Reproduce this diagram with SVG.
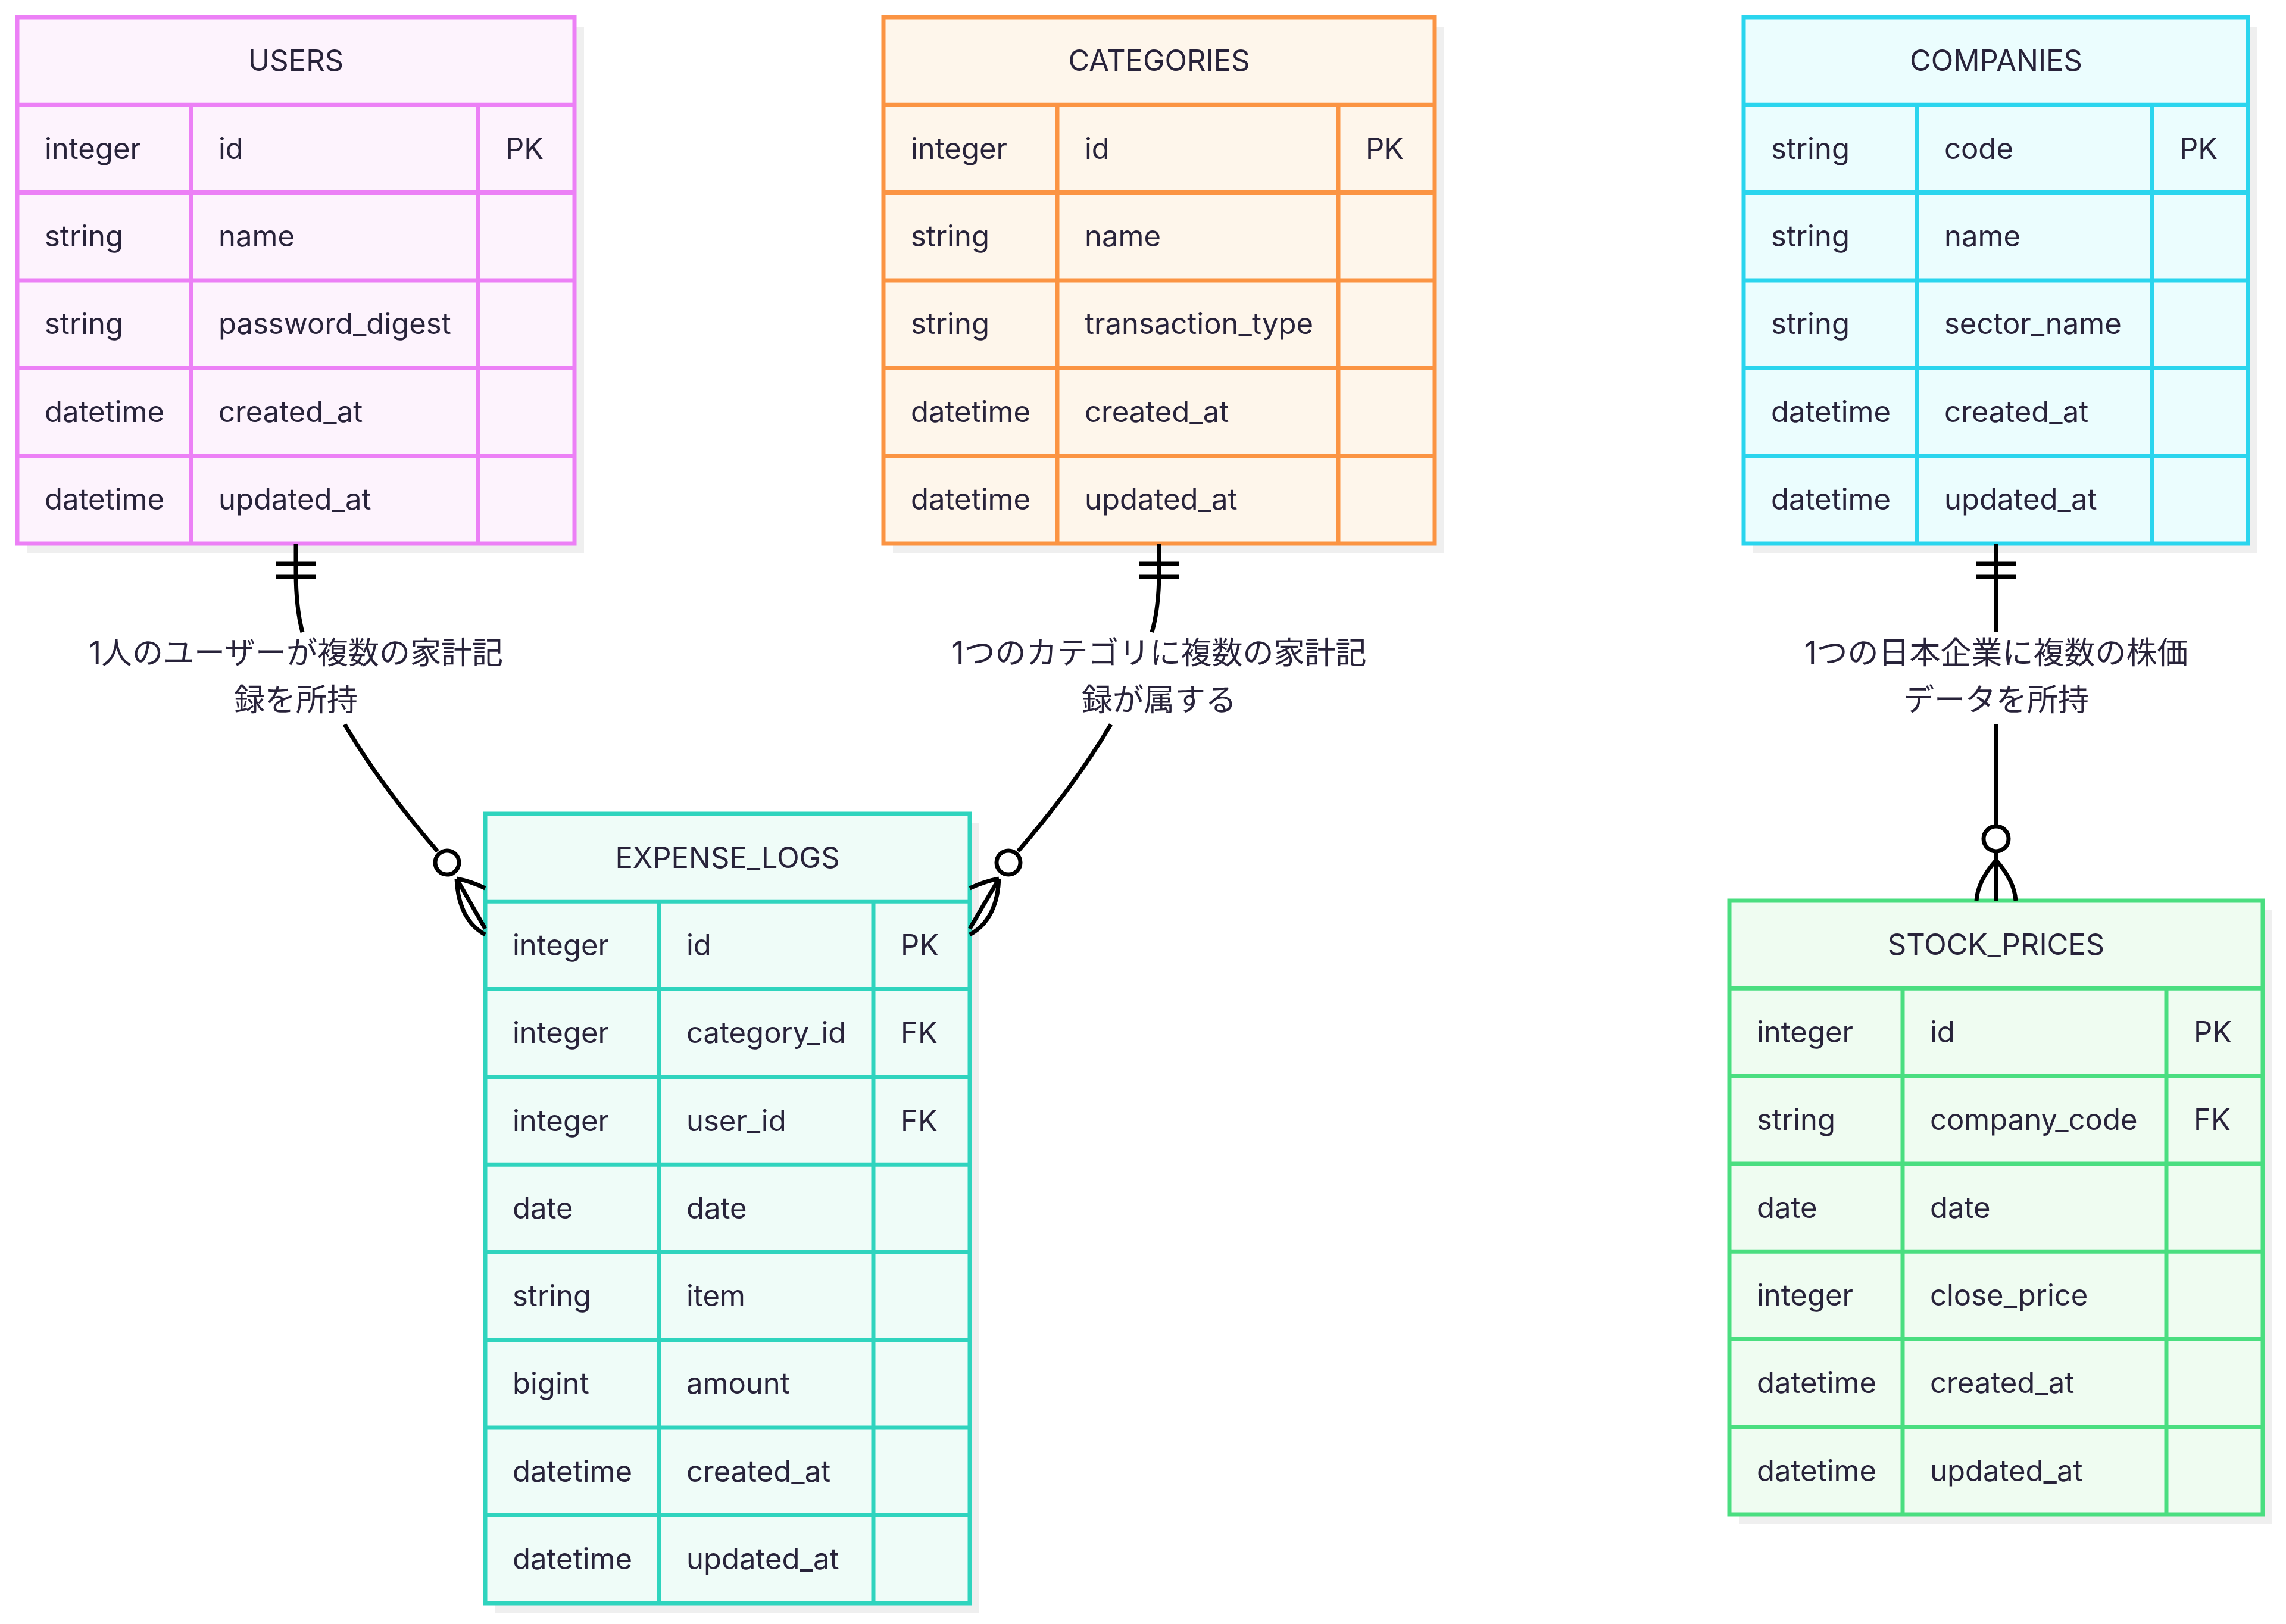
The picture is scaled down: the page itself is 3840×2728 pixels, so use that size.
<svg xmlns="http://www.w3.org/2000/svg" width="3840" height="2728" viewBox="0 0 3840 2728">
<style>
text{font-family:Inter,"Liberation Sans","Noto Sans CJK JP",sans-serif;font-size:49px;fill:#28233a}
.c{text-anchor:middle}
.lbl{font-size:52px}
.g line,.g rect{stroke-width:7}
#users rect,#users line{stroke:#ec80f6}#users rect{fill:#fdf3fd}
#categories rect,#categories line{stroke:#fb9443}#categories rect{fill:#fef6eb}
#companies rect,#companies line{stroke:#2ad5ee}#companies rect{fill:#ebfdfe}
#expense_logs rect,#expense_logs line{stroke:#2fd4be}#expense_logs rect{fill:#effcf8}
#stock_prices rect,#stock_prices line{stroke:#4ade80}#stock_prices rect{fill:#effcf1}
rect.sh{fill:#efefef!important;stroke:none!important}
.conn path,.conn line{fill:none;stroke:#000;stroke-width:7}
.conn circle{fill:#fff;stroke:#000;stroke-width:7}
</style>
<g id="users" class="g">
<rect class="sh" x="45" y="45" width="936" height="884"/>
<rect x="29" y="29" width="936" height="884"/>
<line x1="29" y1="176.3" x2="965" y2="176.3"/><line x1="29" y1="323.6" x2="965" y2="323.6"/><line x1="29" y1="470.9" x2="965" y2="470.9"/><line x1="29" y1="618.2" x2="965" y2="618.2"/><line x1="29" y1="765.5" x2="965" y2="765.5"/>
<line x1="321" y1="176.3" x2="321" y2="913"/><line x1="803" y1="176.3" x2="803" y2="913"/>
<text class="c" x="497" y="119">USERS</text>
<text x="75" y="267">integer</text><text x="367" y="267">id</text><text x="849" y="267">PK</text>
<text x="75" y="414">string</text><text x="367" y="414">name</text>
<text x="75" y="561">string</text><text x="367" y="561">password_digest</text>
<text x="75" y="709">datetime</text><text x="367" y="709">created_at</text>
<text x="75" y="856">datetime</text><text x="367" y="856">updated_at</text>
</g>
<g id="categories" class="g">
<rect class="sh" x="1500" y="45" width="926" height="884"/>
<rect x="1484" y="29" width="926" height="884"/>
<line x1="1484" y1="176.3" x2="2410" y2="176.3"/><line x1="1484" y1="323.6" x2="2410" y2="323.6"/><line x1="1484" y1="470.9" x2="2410" y2="470.9"/><line x1="1484" y1="618.2" x2="2410" y2="618.2"/><line x1="1484" y1="765.5" x2="2410" y2="765.5"/>
<line x1="1776" y1="176.3" x2="1776" y2="913"/><line x1="2248" y1="176.3" x2="2248" y2="913"/>
<text class="c" x="1947" y="119">CATEGORIES</text>
<text x="1530" y="267">integer</text><text x="1822" y="267">id</text><text x="2294" y="267">PK</text>
<text x="1530" y="414">string</text><text x="1822" y="414">name</text>
<text x="1530" y="561">string</text><text x="1822" y="561">transaction_type</text>
<text x="1530" y="709">datetime</text><text x="1822" y="709">created_at</text>
<text x="1530" y="856">datetime</text><text x="1822" y="856">updated_at</text>
</g>
<g id="companies" class="g">
<rect class="sh" x="2945" y="45" width="847" height="884"/>
<rect x="2929" y="29" width="847" height="884"/>
<line x1="2929" y1="176.3" x2="3776" y2="176.3"/><line x1="2929" y1="323.6" x2="3776" y2="323.6"/><line x1="2929" y1="470.9" x2="3776" y2="470.9"/><line x1="2929" y1="618.2" x2="3776" y2="618.2"/><line x1="2929" y1="765.5" x2="3776" y2="765.5"/>
<line x1="3220" y1="176.3" x2="3220" y2="913"/><line x1="3615" y1="176.3" x2="3615" y2="913"/>
<text class="c" x="3353" y="119">COMPANIES</text>
<text x="2975" y="267">string</text><text x="3266" y="267">code</text><text x="3661" y="267">PK</text>
<text x="2975" y="414">string</text><text x="3266" y="414">name</text>
<text x="2975" y="561">string</text><text x="3266" y="561">sector_name</text>
<text x="2975" y="709">datetime</text><text x="3266" y="709">created_at</text>
<text x="2975" y="856">datetime</text><text x="3266" y="856">updated_at</text>
</g>
<g id="expense_logs" class="g">
<rect class="sh" x="831" y="1383" width="814" height="1326"/>
<rect x="815" y="1367" width="814" height="1326"/>
<line x1="815" y1="1514.3" x2="1629" y2="1514.3"/><line x1="815" y1="1661.6" x2="1629" y2="1661.6"/><line x1="815" y1="1808.9" x2="1629" y2="1808.9"/><line x1="815" y1="1956.2" x2="1629" y2="1956.2"/><line x1="815" y1="2103.5" x2="1629" y2="2103.5"/><line x1="815" y1="2250.8" x2="1629" y2="2250.8"/><line x1="815" y1="2398.1" x2="1629" y2="2398.1"/><line x1="815" y1="2545.4" x2="1629" y2="2545.4"/>
<line x1="1107" y1="1514.3" x2="1107" y2="2693"/><line x1="1467" y1="1514.3" x2="1467" y2="2693"/>
<text class="c" x="1222" y="1458">EXPENSE_LOGS</text>
<text x="861" y="1605">integer</text><text x="1153" y="1605">id</text><text x="1513" y="1605">PK</text>
<text x="861" y="1752">integer</text><text x="1153" y="1752">category_id</text><text x="1513" y="1752">FK</text>
<text x="861" y="1900">integer</text><text x="1153" y="1900">user_id</text><text x="1513" y="1900">FK</text>
<text x="861" y="2047">date</text><text x="1153" y="2047">date</text>
<text x="861" y="2194">string</text><text x="1153" y="2194">item</text>
<text x="861" y="2341">bigint</text><text x="1153" y="2341">amount</text>
<text x="861" y="2489">datetime</text><text x="1153" y="2489">created_at</text>
<text x="861" y="2636">datetime</text><text x="1153" y="2636">updated_at</text>
</g>
<g id="stock_prices" class="g">
<rect class="sh" x="2921" y="1529" width="896" height="1031"/>
<rect x="2905" y="1513" width="896" height="1031"/>
<line x1="2905" y1="1660.3" x2="3801" y2="1660.3"/><line x1="2905" y1="1807.6" x2="3801" y2="1807.6"/><line x1="2905" y1="1954.9" x2="3801" y2="1954.9"/><line x1="2905" y1="2102.2" x2="3801" y2="2102.2"/><line x1="2905" y1="2249.5" x2="3801" y2="2249.5"/><line x1="2905" y1="2396.8" x2="3801" y2="2396.8"/>
<line x1="3196" y1="1660.3" x2="3196" y2="2544"/><line x1="3639" y1="1660.3" x2="3639" y2="2544"/>
<text class="c" x="3353" y="1604">STOCK_PRICES</text>
<text x="2951" y="1751">integer</text><text x="3242" y="1751">id</text><text x="3685" y="1751">PK</text>
<text x="2951" y="1898">string</text><text x="3242" y="1898">company_code</text><text x="3685" y="1898">FK</text>
<text x="2951" y="2046">date</text><text x="3242" y="2046">date</text>
<text x="2951" y="2193">integer</text><text x="3242" y="2193">close_price</text>
<text x="2951" y="2340">datetime</text><text x="3242" y="2340">created_at</text>
<text x="2951" y="2488">datetime</text><text x="3242" y="2488">updated_at</text>
</g>
<g class="conn" id="connectors">
<path d="M497,913 L497,960 Q497,1020 508,1062"/>
<line x1="464" y1="947" x2="530" y2="947"/><line x1="464" y1="969" x2="530" y2="969"/>
<path d="M579,1217 Q640,1320 735,1430"/>
<path d="M767,1476 Q790,1480 815,1492 M767,1476 L815,1560 M767,1476 Q770,1545 815,1570"/>
<circle cx="751" cy="1449" r="20"/>
<path d="M1947,913 L1947,960 Q1947,1020 1935,1062"/>
<line x1="1914" y1="947" x2="1980" y2="947"/><line x1="1914" y1="969" x2="1980" y2="969"/>
<path d="M1866,1217 Q1805,1320 1710,1430"/>
<path d="M1678,1476 Q1655,1480 1629,1492 M1678,1476 L1629,1560 M1678,1476 Q1675,1545 1629,1570"/>
<circle cx="1694" cy="1449" r="20"/>
<path d="M3353,913 L3353,1062 M3353,1217 L3353,1387 M3353,1431 L3353,1513"/>
<line x1="3320" y1="947" x2="3386" y2="947"/><line x1="3320" y1="969" x2="3386" y2="969"/>
<circle cx="3353" cy="1409" r="21"/>
<path d="M3353,1445 Q3322,1480 3320,1513 M3353,1445 Q3384,1480 3386,1513"/>
<text class="c lbl" x="497" y="1115">1人のユーザーが複数の家計記</text>
<text class="c lbl" x="497" y="1194">録を所持</text>
<text class="c lbl" x="1947" y="1115">1つのカテゴリに複数の家計記</text>
<text class="c lbl" x="1947" y="1194">録が属する</text>
<text class="c lbl" x="3353" y="1115">1つの日本企業に複数の株価</text>
<text class="c lbl" x="3353" y="1194">データを所持</text>
</g>
</svg>
